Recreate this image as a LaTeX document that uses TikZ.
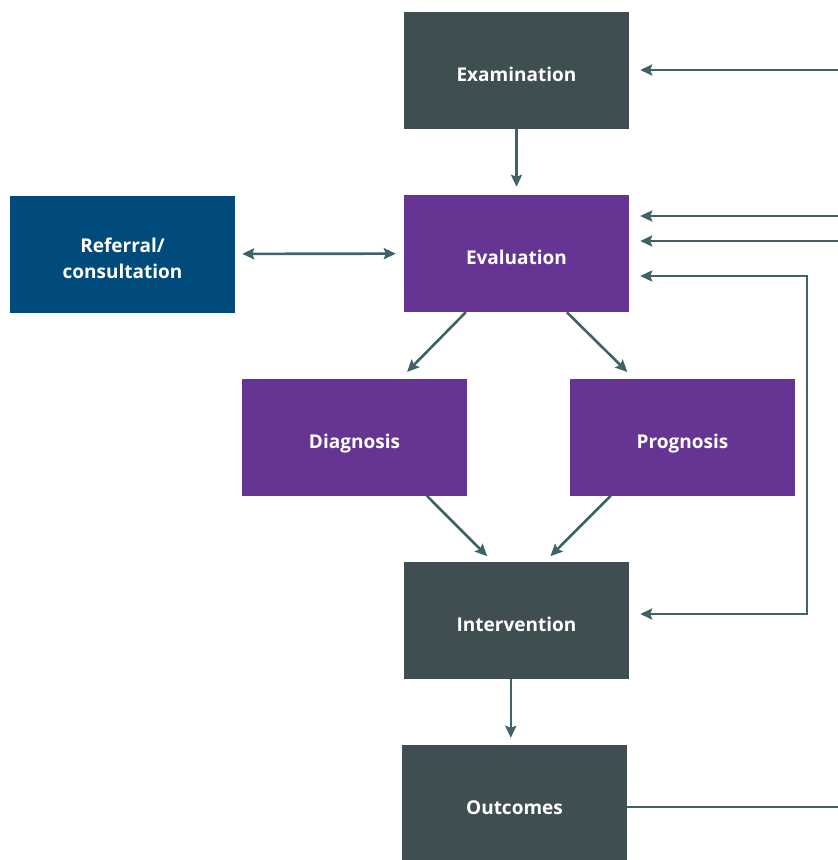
\documentclass[tikz,border=0pt]{standalone}
\usepackage{fontspec}
\setmainfont{Open Sans}
\usetikzlibrary{arrows.meta}
\definecolor{boxgrey}{HTML}{3F4F51}
\definecolor{boxpurple}{HTML}{663493}
\definecolor{boxblue}{HTML}{004A7C}
\definecolor{linkteal}{HTML}{3E6266}

\begin{document}
\begin{tikzpicture}[
	x=1pt, y=-1pt,
	>={Stealth[length=12pt,width=11pt,inset=2pt]},
	box/.style={rectangle,minimum width=225pt,minimum height=117pt,inner sep=0pt,
		text=white,align=center,font=\fontsize{19}{26}\selectfont\bfseries,
		text height=22pt,text depth=0pt},
	greybox/.style={box,fill=boxgrey},
	purplebox/.style={box,fill=boxpurple},
	bluebox/.style={box,fill=boxblue,text height=48pt,text depth=0pt},
	link/.style={draw=linkteal,line width=2.6pt},
	]
\useasboundingbox (0,0) rectangle (838,860);
\clip (0,0) rectangle (838,860);
\node [greybox] (exam) at (516.5,70.5) {Examination};
\node [purplebox] (eval) at (516.5,253.5) {Evaluation};
\node [bluebox] (refer) at (122.5,254) {Referral/\\consultation};
\node [purplebox] (diag) at (354.5,437) {Diagnosis};
\node [purplebox] (prog) at (682.5,437) {Prognosis};
\node [greybox] (inter) at (516.5,620.5) {Intervention};
\node [greybox] (out) at (514.5,803.5) {Outcomes};
% free ends at the right margin
\coordinate (in1) at (838,70);
\coordinate (in2) at (838,216);
\coordinate (in3) at (838,241);
\coordinate (out1) at (838,807);
\coordinate (loopA) at (807,276);
\coordinate (loopB) at (807,614);
  \draw[link,->,shorten >=8pt] (exam) -- (eval);
  \draw[link,<->,shorten <=7pt,shorten >=8pt] (refer) -- (eval);
  \draw[link,->,shorten >=9pt] ([xshift=62pt]eval.south west) -- ([xshift=159pt]diag.north west);
  \draw[link,->,shorten >=9pt] ([xshift=163pt]eval.south west) -- ([xshift=64pt]prog.north west);
  \draw[link,->,shorten >=8pt] ([xshift=185pt]diag.south west) -- ([xshift=89pt]inter.north west);
  \draw[link,->,shorten >=8pt] ([xshift=41pt]prog.south west) -- ([xshift=141pt]inter.north west);
  \draw[link,->,shorten >=7pt] ([xshift=107pt]inter.south west) -- ([xshift=109pt]out.north west);
  \draw[link,->,shorten >=11pt] (in1) -- (exam.east |- in1);
  \draw[link,->,shorten >=11pt] (in2) -- (eval.east |- in2);
  \draw[link,->,shorten >=11pt] (in3) -- (eval.east |- in3);
  \draw[link,<->,shorten <=11pt,shorten >=11pt] (eval.east |- loopA) -- (loopA) -- (loopB) -- (inter.east |- loopB);
  \draw[link] (out.east |- out1) -- (out1);
\end{tikzpicture}
\end{document}
